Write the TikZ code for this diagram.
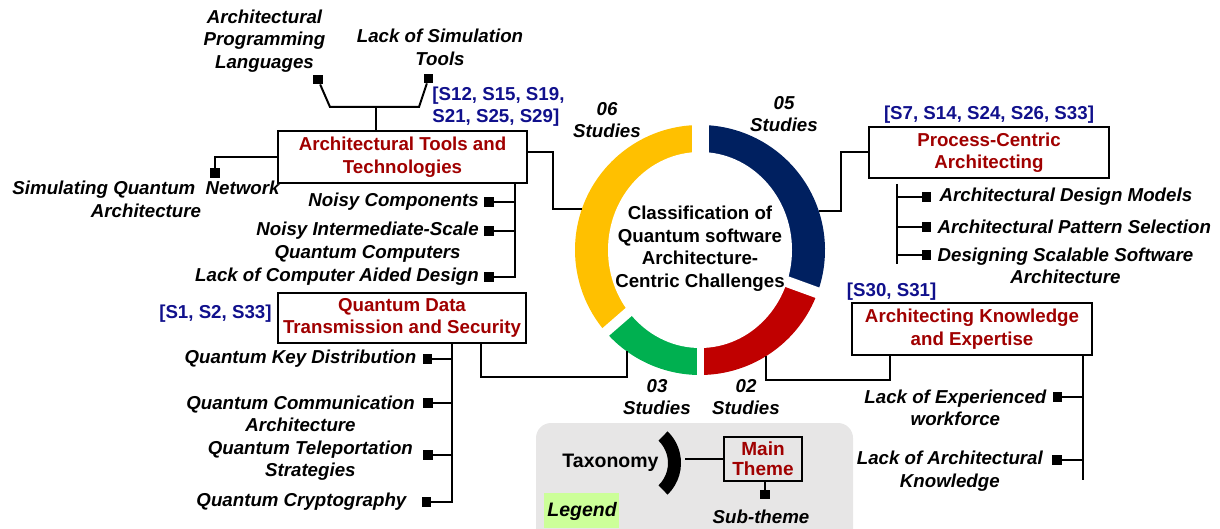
\documentclass[tikz,border=0pt]{standalone}
\usepackage{fontspec}
\setmainfont{Liberation Sans}
\usetikzlibrary{positioning}

\definecolor{themered}{HTML}{A00000}
\definecolor{citeblue}{HTML}{10108C}
\definecolor{ringyellow}{HTML}{FFC000}
\definecolor{ringblue}{HTML}{002060}
\definecolor{ringred}{HTML}{C00000}
\definecolor{ringgreen}{HTML}{00B050}
\definecolor{legendgray}{HTML}{E7E6E6}
\definecolor{legendgreen}{HTML}{CCFF99}

\newcommand{\themefont}{\fontsize{18.7}{22.5}\selectfont\bfseries}
\newcommand{\subthemefont}{\fontsize{18.7}{22.5}\selectfont\bfseries\itshape}
\newcommand{\ringfont}{\fontsize{18.7}{22.5}\selectfont\bfseries}
\newcommand{\legendfont}{\fontsize{19.5}{22}\selectfont\bfseries}
\newcommand{\legendthemefont}{\fontsize{19}{20}\selectfont\bfseries}

\begin{document}
\begin{tikzpicture}[x=1pt, y=1pt,
    theme/.style={rectangle, draw, line width=2.5pt, align=center, text=themered, font=\themefont, inner sep=0pt},
    sub/.style={align=center, font=\subthemefont, inner sep=0pt},
    cite/.style={align=left, text=citeblue, font=\themefont, inner sep=0pt},
    studies/.style={align=center, font=\subthemefont, inner sep=0pt},
    sq/.style={rectangle, fill=black, minimum size=9.5pt, inner sep=0pt},
    link/.style={line width=2pt},
  ]
  \useasboundingbox (0,0) rectangle (1220,528);

  % Ring
  \coordinate (c) at (700,278);
  \foreach \a/\b/\col in {90/221/ringyellow, 221/270/ringgreen, 270/340/ringred, 340/450/ringblue}
    \fill[\col] (c) -- ++(\a:125) arc[start angle=\a, end angle=\b, radius=125] -- cycle;
  \fill[white] (c) ellipse[x radius=92, y radius=98];
  \foreach \a/\w in {90/17, 340/11, 270/7, 221/10}
    \draw[white, line width=\w pt] (c) -- ++(\a:130);
  \node[circle, minimum size=250pt, inner sep=0pt, outer sep=0pt] (ring) at (c) {};
  \node[font=\ringfont, align=center, inner sep=0pt] (ring_label) at (700,279.5) {Classification of\\Quantum software\\Architecture-\\Centric Challenges};

  % Study counts
  \node[studies] (n_tools) at (607,408) {06\\Studies};
  \node[studies] (n_process) at (784,414) {05\\Studies};
  \node[studies] (n_data) at (657,131) {03\\Studies};
  \node[studies] (n_expertise) at (746,131) {02\\Studies};

  % Main themes
  \node[theme, minimum width=249pt, minimum height=52pt] (tools) at (402.5,371) {Architectural Tools and\\Technologies};
  \node[theme, minimum width=240pt, minimum height=51pt] (process) at (989,375.5) {Process-Centric\\Architecting};
  \node[theme, minimum width=240pt, minimum height=52pt] (expertise) at (972,199) {Architecting Knowledge\\and Expertise};
  \node[theme, minimum width=248pt, minimum height=50pt] (data) at (402,210) {Quantum Data\\Transmission and Security};

  % Citations
  \node[cite, above=3pt of tools.north east, anchor=south west, xshift=-96pt] (c_tools) {[S12, S15, S19,\\S21, S25, S29]};
  \node[cite, above=2pt of process] (c_process) {[S7, S14, S24, S26, S33]};
  \node[cite, above=1pt of expertise.north west, anchor=south west, xshift=-4pt] (c_expertise) {[S30, S31]};
  \node[cite, left=5pt of data, yshift=4pt] (c_data) {[S1, S2, S33]};

  % Tools sub-themes
  \node[sq] (m_apl) at (318,448.5) {};
  \node[sq] (m_sim) at (428.5,449.5) {};
  \node[sq] (m_sqna) at (215,355) {};
  \node[sq] (m_noisy) at (489,326) {};
  \node[sq] (m_nisq) at (489,297) {};
  \node[sq] (m_cad) at (489,251) {};
  \node[sub, above=2pt of m_apl, xshift=-53.5pt] (apl) {Architectural\\Programming\\Languages};
  \node[sub, above=8pt of m_sim, xshift=11.5pt] (sim) {Lack of Simulation\\Tools};
  \node[sub, below=3pt of m_sqna, xshift=-69pt] (sqna) {Simulating Quantum\ \ Network\\Architecture};
  \node[sub, left=5pt of m_noisy] (noisy) {Noisy Components};
  \node[sub, left=5pt of m_nisq, yshift=-11pt] (nisq) {Noisy Intermediate-Scale\\Quantum Computers};
  \node[sub, left=5pt of m_cad] (cad) {Lack of Computer Aided Design};

  % Edges tools
  \coordinate (tools_top) at (376,421);
  \coordinate (apl_knee) at (330,421);
  \coordinate (sim_knee) at (419,421);
  \draw[link] (tools_top) -- (tools_top |- tools.north);
  \draw[link] (m_apl) -- (apl_knee) -- (sim_knee) -- (m_sim);
  \draw[link] (tools.west) -| (m_sqna);
  \coordinate (tools_trunk) at ([xshift=-13pt]tools.south east);
  \draw[link] (tools_trunk) |- (m_cad);
  \foreach \m in {m_noisy, m_nisq}
    \draw[link] (\m) -- (\m -| tools_trunk);
  \coordinate (tools_bend) at (553,0);
  \draw[link] ([yshift=5pt]tools.east) -| (tools_bend |- ring.161) -- (ring.161);

  % Process sub-themes
  \node[sq] (m_adm) at (926.5,331) {};
  \node[sq] (m_aps) at (926.5,301) {};
  \node[sq] (m_dss) at (926.5,273) {};
  \node[sub, right=8pt of m_adm] (adm) {Architectural Design Models};
  \node[sub, right=6pt of m_aps] (aps) {Architectural Pattern Selection};
  \node[sub, right=6pt of m_dss, yshift=-11pt] (dss) {Designing Scalable Software\\Architecture};

  % Edges process
  \coordinate (process_trunk) at (897,344);
  \coordinate (process_trunk_end) at (897,264);
  \draw[link] (process_trunk) -- (process_trunk_end);
  \foreach \m in {m_adm, m_aps, m_dss}
    \draw[link] (\m) -- (\m -| process_trunk);
  \coordinate (process_bend) at (841,0);
  \draw[link] (ring.18) -| (process_bend |- process.west) -- (process.west);

  % Expertise sub-themes
  \node[sq] (m_lew) at (1057.5,131) {};
  \node[sq] (m_lak) at (1057,68) {};
  \node[sub, left=6pt of m_lew, yshift=-11pt] (lew) {Lack of Experienced\\workforce};
  \node[sub, left=9pt of m_lak, yshift=-11pt] (lak) {Lack of Architectural\\Knowledge};

  % Edges expertise
  \coordinate (expertise_trunk) at ([xshift=-10pt]expertise.south east);
  \draw[link] (expertise_trunk) -- ++(0,-124);
  \foreach \m in {m_lew, m_lak}
    \draw[link] (\m) -- (\m -| expertise_trunk);
  \draw[link] (ring.-58) -- ++(0,-24) -| ([xshift=39pt]expertise.south west);

  % Data sub-themes
  \node[sq] (m_qkd) at (427.5,169) {};
  \node[sq] (m_qca) at (428,125) {};
  \node[sq] (m_qts) at (428,73) {};
  \node[sq] (m_qc) at (426.5,26) {};
  \node[sub, left=6pt of m_qkd] (qkd) {Quantum Key Distribution};
  \node[sub, left=8pt of m_qca, yshift=-11pt] (qca) {Quantum Communication\\Architecture};
  \node[sub, left=10pt of m_qts, yshift=-5.5pt] (qts) {Quantum Teleportation\\Strategies};
  \node[sub, left=15pt of m_qc] (qc) {Quantum Cryptography};

  % Edges data
  \coordinate (data_trunk) at ([xshift=-75pt]data.south east);
  \draw[link] (data_trunk) |- (m_qc);
  \foreach \m in {m_qkd, m_qca, m_qts}
    \draw[link] (\m) -- (\m -| data_trunk);
  \draw[link] ([xshift=-46pt]data.south east) -- ++(0,-33) -| (ring.234);

  % Legend
  \fill[legendgray, rounded corners=15pt] (536,-20) rectangle (853,105);
  \fill[legendgreen] (544,0) rectangle (619,35);
  \node[font=\legendfont\itshape, inner sep=0pt] (legend) at (582,17) {Legend};
  \node[font=\legendfont, inner sep=0pt] (taxonomy) at (610.5,65) {Taxonomy};
  \fill[shift={(637,65)}] (-46:44) arc[start angle=-46, end angle=46, radius=44] -- (46:31) arc[start angle=46, end angle=-46, radius=31] -- cycle;
  \coordinate (tax_arc) at (685,69);
  \node[theme, minimum width=78pt, minimum height=44pt, font=\legendthemefont] (main_theme) at (763,69) {Main\\Theme};
  \draw[link] (tax_arc) -- (main_theme.west);
  \node[sq] (m_legend) at (765,33.5) {};
  \draw[link] (main_theme.south -| m_legend) -- (m_legend);
  \node[sub, below=10pt of m_legend, xshift=-4pt] (sub_theme) {Sub-theme};
\end{tikzpicture}
\end{document}
